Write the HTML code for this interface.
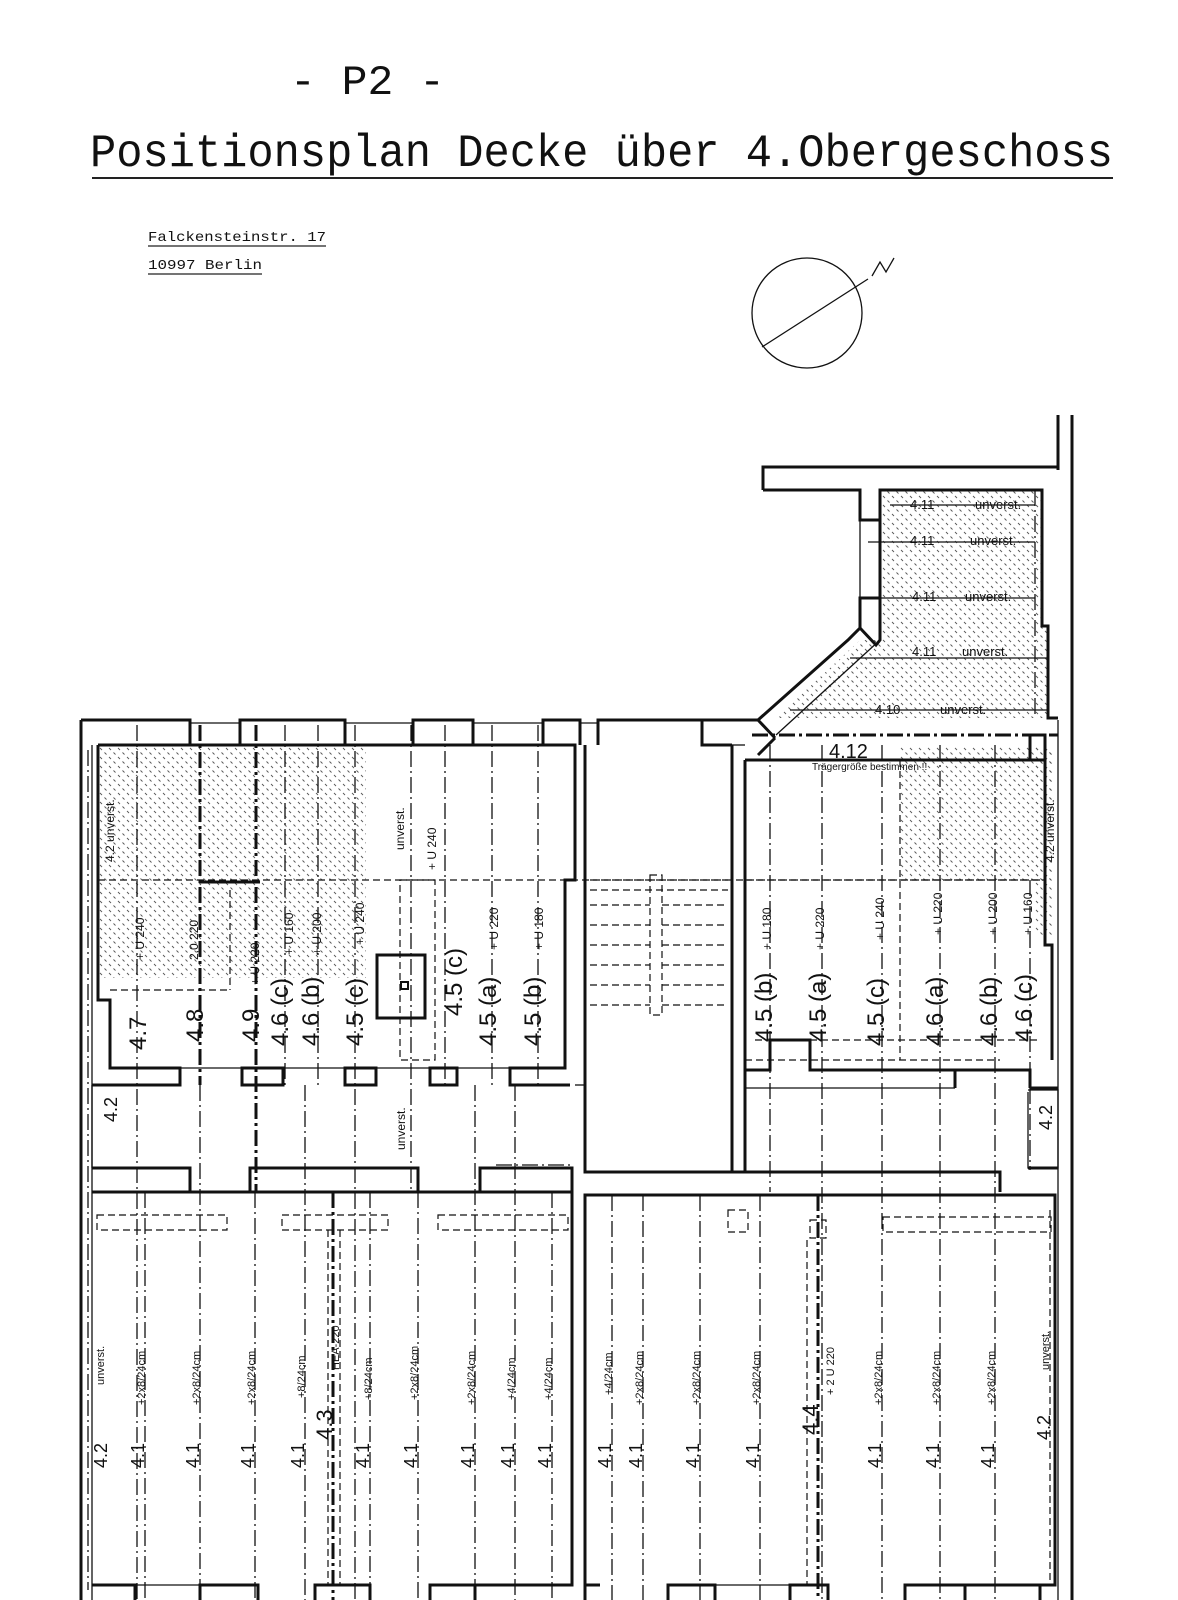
<!DOCTYPE html>
<html><head><meta charset="utf-8"><style>
html,body{margin:0;padding:0;background:#fff;}
svg{display:block;}
text{font-family:"Liberation Sans Narrow","Liberation Sans",sans-serif;fill:#111;}
.m{font-family:"Liberation Mono",monospace;}
.w{stroke:#111;stroke-width:3;fill:none;}
.t{stroke:#111;stroke-width:1.3;fill:none;}
.dd{stroke:#111;stroke-width:1.3;fill:none;stroke-dasharray:16 4 2 4;}
.dk{stroke:#111;stroke-width:3;fill:none;stroke-dasharray:16 4 3 4;}
.ds{stroke:#111;stroke-width:1.2;fill:none;stroke-dasharray:7 4;}
</style></head><body>
<svg width="1178" height="1600" viewBox="0 0 1178 1600" xmlns="http://www.w3.org/2000/svg">
<defs>
<pattern id="h" width="9" height="9" patternUnits="userSpaceOnUse">
<line x1="1" y1="1" x2="3" y2="3" stroke="#555" stroke-width="0.9"/>
<line x1="5.5" y1="5.5" x2="7.5" y2="7.5" stroke="#555" stroke-width="0.9"/>
</pattern>
</defs>
<!-- Title -->
<text x="290" y="94" class="m" font-size="42" textLength="155" lengthAdjust="spacingAndGlyphs">- P2 -</text>
<text x="90" y="166" class="m" font-size="46" textLength="1023" lengthAdjust="spacingAndGlyphs">Positionsplan Decke über 4.Obergeschoss</text>
<line x1="92" y1="178" x2="1113" y2="178" stroke="#222" stroke-width="2"/>
<text x="148" y="241" class="m" font-size="14" textLength="178" lengthAdjust="spacingAndGlyphs">Falckensteinstr. 17</text>
<line x1="148" y1="246" x2="326" y2="246" stroke="#222" stroke-width="1.2"/>
<text x="148" y="269" class="m" font-size="14" textLength="114" lengthAdjust="spacingAndGlyphs">10997 Berlin</text>
<line x1="148" y1="274" x2="262" y2="274" stroke="#222" stroke-width="1.2"/>
<!-- compass -->
<circle cx="807" cy="313" r="55" class="t" stroke-width="1.6"/>
<line x1="762" y1="347" x2="868" y2="279" class="t" stroke-width="1.6"/>
<polyline points="872,276 880,262 886,272 894,258" class="t" stroke-width="1.4"/>

<!-- hatched areas -->
<polygon points="98,746 366,746 366,978 220,978 220,882 98,882" fill="url(#h)"/>
<rect x="98" y="882" width="122" height="96" fill="url(#h)"/>
<polygon points="880,490 1042,490 1042,626 1048,626 1048,718 776,718 860,640 880,640" fill="url(#h)"/>
<rect x="900" y="746" width="152" height="134" fill="url(#h)"/>
<rect x="1035" y="746" width="17" height="190" fill="url(#h)"/>

<!-- building outer -->
<line x1="81" y1="720" x2="81" y2="1600" class="w"/>
<line x1="92" y1="745" x2="92" y2="1600" class="t" stroke-width="2"/>
<line x1="1058" y1="415" x2="1058" y2="470" class="w"/>
<line x1="1072" y1="415" x2="1072" y2="1600" class="w"/>
<line x1="1058" y1="720" x2="1058" y2="1600" class="t" stroke-width="2"/>
<!-- top wall with windows -->
<polyline points="81,720 190,720 190,745 98,745" class="w"/>
<polyline points="240,745 240,720 345,720 345,745" class="w"/>
<polyline points="413,745 413,720 473,720 473,745" class="w"/>
<polyline points="543,745 543,720 580,720 580,745" class="w"/>
<polyline points="598,745 598,720 702,720 702,745 732,745" class="w"/>
<line x1="190" y1="723" x2="240" y2="723" class="t"/><line x1="345" y1="723" x2="413" y2="723" class="t"/><line x1="473" y1="723" x2="543" y2="723" class="t"/>
<line x1="580" y1="723" x2="598" y2="723" class="t"/>
<!-- upper left room -->
<polyline points="98,745 575,745 575,880 565,880 565,1068 510,1068 510,1085 570,1085" class="w"/>
<polyline points="98,745 98,1000 110,1000 110,1068 180,1068 180,1085 92,1085" class="w"/>
<line x1="180" y1="1068" x2="510" y2="1068" class="t"/>
<rect x="242" y="1068" width="41" height="17" class="w"/>
<rect x="345" y="1068" width="31" height="17" class="w"/>
<rect x="430" y="1068" width="27" height="17" class="w"/>
<rect x="377" y="955" width="48" height="63" class="w"/>
<rect x="401" y="982" width="7" height="7" stroke="#111" stroke-width="2" fill="none"/>
<polyline points="200,882 260,882" class="w"/>
<!-- stair -->
<polyline points="585,745 585,1172 732,1172 732,745" class="w"/>
<polyline points="575,1085 585,1085 M 575,1172 585,1172" class="t"/>
<g class="ds">
<line x1="590" y1="880" x2="728" y2="880"/><line x1="590" y1="890" x2="728" y2="890"/>
<line x1="590" y1="905" x2="650" y2="905"/><line x1="590" y1="925" x2="650" y2="925"/>
<line x1="590" y1="945" x2="650" y2="945"/><line x1="590" y1="965" x2="650" y2="965"/>
<line x1="590" y1="985" x2="650" y2="985"/><line x1="590" y1="1005" x2="650" y2="1005"/>
<line x1="662" y1="905" x2="728" y2="905"/><line x1="662" y1="925" x2="728" y2="925"/>
<line x1="662" y1="945" x2="728" y2="945"/><line x1="662" y1="965" x2="728" y2="965"/>
<line x1="662" y1="985" x2="728" y2="985"/><line x1="662" y1="1005" x2="728" y2="1005"/>
<rect x="650" y="875" width="12" height="140"/>
<line x1="98" y1="880" x2="1045" y2="880"/>
<line x1="110" y1="990" x2="230" y2="990"/>
<line x1="230" y1="890" x2="230" y2="990"/>
<rect x="400" y="880" width="35" height="180"/>
</g>
<!-- annex -->
<polyline points="763,490 763,467 1058,467" class="w"/>
<polyline points="763,490 860,490 860,520 880,520 880,490 1042,490 1042,626 1048,626 1048,718 1058,718" class="w"/>
<polyline points="880,520 880,598 860,598 860,628 848,640 758,720 702,720" class="w"/>
<polyline points="860,628 876,645 880,640 880,598" class="w"/>
<line x1="860" y1="520" x2="860" y2="598" class="t"/>
<line x1="880" y1="640" x2="776" y2="735" class="t"/>
<line x1="758" y1="720" x2="775" y2="738" class="w"/>
<line x1="775" y1="738" x2="758" y2="755" class="w"/>
<line x1="752" y1="735" x2="1058" y2="735" class="dk"/>
<line x1="1035" y1="490" x2="1035" y2="718" class="dd"/>
<g class="t">
<line x1="890" y1="505" x2="1035" y2="505"/><line x1="868" y1="542" x2="1035" y2="542"/>
<line x1="880" y1="598" x2="1035" y2="598"/><line x1="850" y1="658" x2="1048" y2="658"/>
<line x1="790" y1="710" x2="1048" y2="710"/>
</g>
<!-- upper right room -->
<polyline points="745,760 745,1070 770,1070 770,1040 810,1040 810,1070 1030,1070 1030,1088" class="w"/>
<polyline points="745,760 1045,760 1045,945 1052,945 1052,1060" class="w"/>
<line x1="732" y1="745" x2="745" y2="745" class="t"/>
<polyline points="955,1088 955,1070 M 1052,1060 1052,1070" class="w"/>
<rect x="1030" y="735" width="15" height="25" class="w"/>
<line x1="755" y1="1040" x2="1040" y2="1040" class="ds"/>
<line x1="745" y1="1060" x2="1000" y2="1060" class="ds"/>
<line x1="900" y1="760" x2="900" y2="1060" class="ds"/>
<line x1="745" y1="880" x2="1045" y2="880" class="ds"/>
<!-- corridor -->
<polyline points="92,1168 190,1168 190,1192" class="w"/>
<line x1="92" y1="1085" x2="92" y2="1168" class="t"/>
<polyline points="250,1192 250,1168 418,1168 418,1192" class="w"/>
<polyline points="480,1192 480,1168 572,1168 572,1192 M 572,1168 585,1168" class="w"/>
<polyline points="496,1165 572,1165" class="dd"/>
<polyline points="745,1070 745,1172 732,1172" class="w"/>
<line x1="745" y1="1088" x2="955" y2="1088" class="t"/>
<polyline points="745,1172 1000,1172 1000,1192 M 1070,1192 1058,1192" class="w"/>
<polyline points="1028,1090 1058,1090 1058,1168 1028,1168 1028,1092" class="t"/>
<polyline points="1030,1088 1058,1088" class="w"/>
<polyline points="1028,1168 1058,1168" class="w"/>
<!-- lower rooms -->
<polyline points="92,1192 572,1192 572,1585 475,1585" class="w"/>
<polyline points="92,1585 135,1585 135,1600" class="w"/>
<polyline points="200,1600 200,1585 258,1585 258,1600" class="w"/>
<polyline points="315,1600 315,1585 370,1585 370,1600" class="w"/>
<polyline points="430,1600 430,1585 475,1585 475,1600" class="w"/>
<polyline points="585,1600 585,1195 1055,1195 1055,1585 1040,1585 1040,1600" class="w"/>
<polyline points="585,1585 600,1585" class="w"/>
<polyline points="668,1600 668,1585 715,1585 715,1600" class="w"/>
<polyline points="790,1600 790,1585 828,1585 828,1600" class="w"/>
<polyline points="905,1600 905,1585 965,1585 965,1600" class="w"/>
<polyline points="965,1585 1040,1585" class="w"/>
<polyline points="715,1585 790,1585 M 828,1585 905,1585 M 600,1585 668,1585" class="t"/>
<polyline points="135,1585 200,1585 M 258,1585 315,1585 M 370,1585 430,1585" class="t"/>
<g class="ds">
<rect x="97" y="1215" width="130" height="15"/>
<rect x="282" y="1215" width="106" height="15"/>
<rect x="438" y="1215" width="130" height="15"/>
<rect x="883" y="1217" width="168" height="15"/>
<rect x="728" y="1210" width="20" height="22"/>
<rect x="810" y="1220" width="16" height="18"/>
<line x1="328" y1="1230" x2="328" y2="1585"/><line x1="340" y1="1230" x2="340" y2="1585"/>
<line x1="807" y1="1240" x2="807" y2="1585"/>
<line x1="1050" y1="1210" x2="1050" y2="1585"/>
</g>

<!-- dash-dot beam lines -->
<g class="dd">
<line x1="137" y1="725" x2="137" y2="1600"/>
<line x1="285" y1="725" x2="285" y2="1085"/>
<line x1="318" y1="725" x2="318" y2="1085"/>
<line x1="355" y1="725" x2="355" y2="1600"/>
<line x1="411" y1="725" x2="411" y2="1192"/>
<line x1="445" y1="725" x2="445" y2="1085"/>
<line x1="492" y1="725" x2="492" y2="1085"/>
<line x1="538" y1="725" x2="538" y2="1085"/>
<line x1="88" y1="750" x2="88" y2="1590"/>
<line x1="145" y1="1192" x2="145" y2="1600"/>
<line x1="200" y1="1085" x2="200" y2="1600"/>
<line x1="255" y1="1192" x2="255" y2="1600"/>
<line x1="305" y1="1085" x2="305" y2="1600"/>
<line x1="370" y1="1192" x2="370" y2="1600"/>
<line x1="418" y1="1192" x2="418" y2="1600"/>
<line x1="475" y1="1085" x2="475" y2="1600"/>
<line x1="515" y1="1085" x2="515" y2="1600"/>
<line x1="552" y1="1192" x2="552" y2="1600"/>
<line x1="612" y1="1195" x2="612" y2="1600"/>
<line x1="643" y1="1195" x2="643" y2="1600"/>
<line x1="700" y1="1195" x2="700" y2="1600"/>
<line x1="760" y1="1195" x2="760" y2="1600"/>
<line x1="770" y1="745" x2="770" y2="1192"/>
<line x1="822" y1="745" x2="822" y2="1600"/>
<line x1="882" y1="745" x2="882" y2="1600"/>
<line x1="940" y1="745" x2="940" y2="1600"/>
<line x1="995" y1="745" x2="995" y2="1600"/>
<line x1="1030" y1="880" x2="1030" y2="1170"/>
</g>
<g class="dk">
<line x1="200" y1="725" x2="200" y2="1085"/>
<line x1="256" y1="725" x2="256" y2="1192"/>
<line x1="333" y1="1192" x2="333" y2="1600"/>
<line x1="818" y1="1195" x2="818" y2="1600"/>
</g>

<!-- labels upper left -->
<g font-size="24">
<text transform="translate(146,1050) rotate(-90)">4.7</text>
<text transform="translate(203,1042) rotate(-90)">4.8</text>
<text transform="translate(259,1042) rotate(-90)">4.9</text>
<text transform="translate(288,1046) rotate(-90)">4.6 (c)</text>
<text transform="translate(319,1046) rotate(-90)">4.6 (b)</text>
<text transform="translate(363,1046) rotate(-90)">4.5 (c)</text>
<text transform="translate(462,1016) rotate(-90)">4.5 (c)</text>
<text transform="translate(496,1046) rotate(-90)">4.5 (a)</text>
<text transform="translate(541,1046) rotate(-90)">4.5 (b)</text>
<text transform="translate(772,1042) rotate(-90)">4.5 (b)</text>
<text transform="translate(826,1042) rotate(-90)">4.5 (a)</text>
<text transform="translate(884,1046) rotate(-90)">4.5 (c)</text>
<text transform="translate(943,1046) rotate(-90)">4.6 (a)</text>
<text transform="translate(997,1046) rotate(-90)">4.6 (b)</text>
<text transform="translate(1032,1042) rotate(-90)">4.6 (c)</text>
</g>
<g font-size="12">
<text transform="translate(293,955) rotate(-90)">+ U 160</text>
<text transform="translate(321,955) rotate(-90)">+ U 200</text>
<text transform="translate(364,945) rotate(-90)">+ U 240</text>
<text transform="translate(498,950) rotate(-90)">+ U 220</text>
<text transform="translate(543,950) rotate(-90)">+ U 180</text>
<text transform="translate(259,985) rotate(-90)">+ U 220</text>
<text transform="translate(404,850) rotate(-90)">unverst.</text>
<text transform="translate(436,870) rotate(-90)">+ U 240</text>
<text transform="translate(198,960) rotate(-90)">2,0 220</text>
<text transform="translate(144,960) rotate(-90)">+ U 240</text>
<text transform="translate(114,862) rotate(-90)">4.2  unverst.</text>
<text transform="translate(771,950) rotate(-90)">+ U 180</text>
<text transform="translate(824,950) rotate(-90)">+ U 220</text>
<text transform="translate(884,940) rotate(-90)">+ U 240</text>
<text transform="translate(942,935) rotate(-90)">+ U 220</text>
<text transform="translate(997,935) rotate(-90)">+ U 200</text>
<text transform="translate(1032,935) rotate(-90)">+ U 160</text>
<text transform="translate(1054,862) rotate(-90)">4.2  unverst.</text>
<text transform="translate(405,1150) rotate(-90)">unverst.</text>
</g>
<g font-size="18">
<text transform="translate(117,1122) rotate(-90)">4.2</text>
<text transform="translate(1052,1130) rotate(-90)">4.2</text>
</g>
<!-- annex labels -->
<g font-size="13">
<text x="910" y="509">4.11</text><text x="975" y="509">unverst.</text>
<text x="910" y="545">4.11</text><text x="970" y="545">unverst.</text>
<text x="912" y="601">4.11</text><text x="965" y="601">unverst.</text>
<text x="912" y="656">4.11</text><text x="962" y="656">unverst.</text>
<text x="875" y="714">4.10</text><text x="940" y="714">unverst.</text>
</g>
<text x="829" y="758" font-size="20">4.12</text>
<text x="812" y="770" font-size="10">Trägergröße bestimmen !!</text>

<!-- lower labels -->
<g font-size="18">
<text transform="translate(107,1468) rotate(-90)">4.2</text>
<text transform="translate(144,1468) rotate(-90)">4.1</text>
<text transform="translate(199,1468) rotate(-90)">4.1</text>
<text transform="translate(254,1468) rotate(-90)">4.1</text>
<text transform="translate(304,1468) rotate(-90)">4.1</text>
<text transform="translate(369,1468) rotate(-90)">4.1</text>
<text transform="translate(417,1468) rotate(-90)">4.1</text>
<text transform="translate(474,1468) rotate(-90)">4.1</text>
<text transform="translate(514,1468) rotate(-90)">4.1</text>
<text transform="translate(551,1468) rotate(-90)">4.1</text>
<text transform="translate(611,1468) rotate(-90)">4.1</text>
<text transform="translate(642,1468) rotate(-90)">4.1</text>
<text transform="translate(699,1468) rotate(-90)">4.1</text>
<text transform="translate(759,1468) rotate(-90)">4.1</text>
<text transform="translate(881,1468) rotate(-90)">4.1</text>
<text transform="translate(939,1468) rotate(-90)">4.1</text>
<text transform="translate(994,1468) rotate(-90)">4.1</text>
<text transform="translate(1050,1440) rotate(-90)">4.2</text>
</g>
<g font-size="22">
<text transform="translate(332,1440) rotate(-90)">4.3</text>
<text transform="translate(818,1435) rotate(-90)">4.4</text>
</g>
<g font-size="11">
<text transform="translate(104,1385) rotate(-90)">unverst.</text>
<text transform="translate(145,1405) rotate(-90)">+2x8/24cm</text>
<text transform="translate(200,1405) rotate(-90)">+2x8/24cm</text>
<text transform="translate(255,1405) rotate(-90)">+2x8/24cm</text>
<text transform="translate(305,1398) rotate(-90)">+8/24cm</text>
<text transform="translate(339,1370) rotate(-90)">HEA-220</text>
<text transform="translate(372,1400) rotate(-90)">+8/24cm</text>
<text transform="translate(418,1400) rotate(-90)">+2x8/24cm</text>
<text transform="translate(475,1405) rotate(-90)">+2x8/24cm</text>
<text transform="translate(515,1400) rotate(-90)">+4/24cm</text>
<text transform="translate(552,1400) rotate(-90)">+4/24cm</text>
<text transform="translate(612,1395) rotate(-90)">+4/24cm</text>
<text transform="translate(643,1405) rotate(-90)">+2x8/24cm</text>
<text transform="translate(700,1405) rotate(-90)">+2x8/24cm</text>
<text transform="translate(760,1405) rotate(-90)">+2x8/24cm</text>
<text transform="translate(834,1395) rotate(-90)">+ 2 U 220</text>
<text transform="translate(882,1405) rotate(-90)">+2x8/24cm</text>
<text transform="translate(940,1405) rotate(-90)">+2x8/24cm</text>
<text transform="translate(995,1405) rotate(-90)">+2x8/24cm</text>
<text transform="translate(1049,1370) rotate(-90)">unverst.</text>
</g>
</svg>
</body></html>
